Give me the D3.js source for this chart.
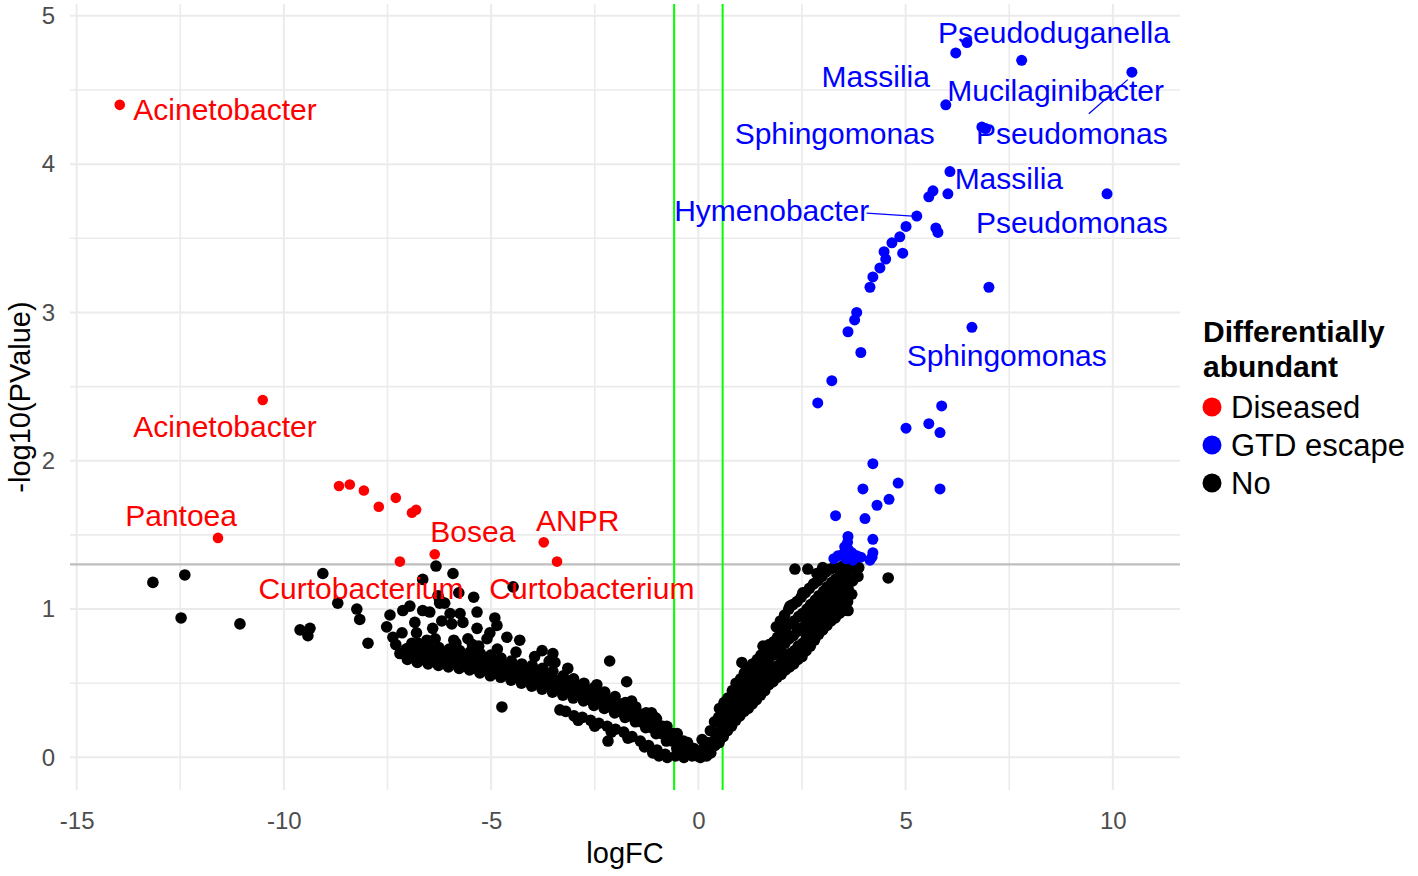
<!DOCTYPE html>
<html>
<head>
<meta charset="utf-8">
<script src="https://cdn.jsdelivr.net/npm/d3@7"></script>
<style>
  body { margin: 0; background: #fff; }
  text { font-family: "Liberation Sans", Arial, sans-serif; }
</style>
</head>
<body>
<div id="plot"></div>
<script>
// logFC, -log10(PValue)
const diseased = [
  [-13.96, 4.40], [-10.51, 2.41], [-11.59, 1.48], [-8.67, 1.83], [-8.41, 1.84],
  [-8.07, 1.80], [-7.71, 1.69], [-7.30, 1.75], [-6.91, 1.65], [-6.81, 1.67],
  [-7.20, 1.32], [-6.36, 1.37], [-3.73, 1.45], [-3.41, 1.32]
];

const gtdEscape = [
  [6.21, 4.75], [6.48, 4.82], [7.80, 4.70], [10.46, 4.62], [5.97, 4.40], [6.84, 4.25],
  [6.93, 4.24], [6.07, 3.95], [5.66, 3.82], [5.56, 3.78], [6.02, 3.80], [9.86, 3.80],
  [5.27, 3.65], [5.01, 3.58], [5.73, 3.57], [5.78, 3.54], [4.86, 3.51], [4.67, 3.47],
  [4.48, 3.41], [4.93, 3.40], [4.52, 3.36], [4.38, 3.30], [4.21, 3.24], [4.14, 3.17],
  [7.01, 3.17], [3.82, 3.00], [3.77, 2.95], [3.61, 2.87], [3.92, 2.73], [6.60, 2.90],
  [3.22, 2.54], [2.88, 2.39], [5.87, 2.37], [5.01, 2.22], [5.56, 2.25], [5.83, 2.19],
  [4.21, 1.98], [4.82, 1.85], [3.97, 1.81], [5.83, 1.81], [4.60, 1.74], [4.31, 1.70],
  [3.31, 1.63], [4.02, 1.61], [3.61, 1.49], [4.21, 1.47], [3.53, 1.42], [3.62, 1.40],
  [3.70, 1.38], [3.37, 1.36], [3.49, 1.37], [3.82, 1.36], [3.92, 1.35], [3.27, 1.34],
  [4.21, 1.38], [4.19, 1.35], [4.14, 1.33], [3.56, 1.34], [3.73, 1.33], [3.60, 1.45]
];

const notDifferential = [
  // sparse left
  [-13.16, 1.18], [-12.39, 1.23], [-12.48, 0.94], [-11.06, 0.90], [-9.06, 1.24], [-8.70, 1.04],
  [-9.61, 0.86], [-9.37, 0.87], [-9.42, 0.82], [-8.24, 1.00], [-8.17, 0.93], [-7.97, 0.77],
  [-6.65, 1.20], [-6.33, 1.29], [-5.92, 1.24], [-5.78, 1.11], [-5.42, 1.08], [-4.47, 1.15],
  [-6.24, 1.04],
  [-7.44, 0.96], [-7.52, 0.88], [-7.37, 0.81], [-7.13, 0.99], [-6.96, 1.02], [-6.84, 0.91],
  [-6.91, 0.77], [-6.65, 0.99], [-6.48, 0.98], [-6.55, 0.79], [-6.41, 0.87], [-6.24, 1.06],
  [-6.28, 1.09], [-6.19, 0.92], [-6.12, 1.04], [-5.99, 0.97], [-5.95, 0.90], [-5.75, 0.97],
  [-5.68, 0.91], [-5.34, 0.98], [-5.34, 0.87], [-4.91, 0.94], [-4.86, 0.89], [-5.03, 0.84],
  [-7.20, 0.70], [-7.05, 0.73], [-6.72, 0.72], [-6.41, 0.70], [-6.07, 0.69], [-5.83, 0.72],
  [-5.56, 0.80], [-5.10, 0.80], [-4.62, 0.81], [-4.31, 0.79], [-3.77, 0.72], [-3.51, 0.70],
  [-3.46, 0.64], [-2.45, 0.49], [-2.14, 0.65], [-1.73, 0.51], [-1.61, 0.38], [-1.13, 0.30],
  [-1.05, 0.27], [-4.74, 0.34], [-3.34, 0.32], [-2.18, 0.11],
  [-7.30, 0.76], [-7.15, 0.84], [-6.80, 0.84], [-6.35, 0.80], [-5.90, 0.79], [-5.45, 0.76],
  [-5.85, 0.77], [-5.30, 0.75], [-4.85, 0.73], [-4.40, 0.71], [-3.95, 0.68], [-3.60, 0.65],
  [-3.15, 0.60],
  // main left band
  [-7.02, 0.66], [-6.98, 0.74],
  [-6.78, 0.64], [-6.73, 0.70], [-6.76, 0.77],
  [-6.52, 0.63], [-6.47, 0.69], [-6.51, 0.76],
  [-6.27, 0.62], [-6.23, 0.68], [-6.26, 0.74],
  [-6.03, 0.61], [-5.98, 0.67], [-6.01, 0.73],
  [-5.77, 0.60], [-5.74, 0.66], [-5.76, 0.72],
  [-5.52, 0.59], [-5.48, 0.65], [-5.51, 0.71],
  [-5.27, 0.57], [-5.23, 0.63], [-5.26, 0.70],
  [-5.02, 0.55], [-4.98, 0.62], [-5.01, 0.69],
  [-4.77, 0.54], [-4.73, 0.60], [-4.76, 0.67],
  [-4.52, 0.52], [-4.48, 0.58], [-4.51, 0.65],
  [-4.27, 0.50], [-4.23, 0.56], [-4.26, 0.63],
  [-4.02, 0.48], [-3.98, 0.55], [-4.01, 0.62],
  [-3.77, 0.46], [-3.73, 0.53], [-3.76, 0.60],
  [-3.52, 0.44], [-3.48, 0.51], [-3.51, 0.58],
  [-3.27, 0.42], [-3.23, 0.48], [-3.26, 0.55],
  [-3.02, 0.40], [-2.98, 0.46], [-3.01, 0.53],
  [-2.77, 0.38], [-2.73, 0.44], [-2.76, 0.50],
  [-2.52, 0.35], [-2.48, 0.41], [-2.51, 0.47],
  [-2.27, 0.33], [-2.23, 0.38], [-2.26, 0.44],
  [-2.02, 0.30], [-1.98, 0.35], [-2.01, 0.41],
  [-1.77, 0.27], [-1.73, 0.32], [-1.76, 0.37],
  [-1.52, 0.24], [-1.48, 0.29], [-1.51, 0.34],
  [-1.27, 0.20], [-1.23, 0.25], [-1.26, 0.30],
  [-1.02, 0.16], [-0.98, 0.21], [-1.01, 0.26],
  [-0.77, 0.11], [-0.73, 0.16], [-0.76, 0.21],
  [-0.52, 0.06], [-0.48, 0.11], [-0.51, 0.16],
  [-0.27, 0.02], [-0.23, 0.06], [-0.26, 0.10],
  [-0.02, 0.01], [0.02, 0.04],
  [-6.88, 0.67], [-6.86, 0.73], [-6.63, 0.66], [-6.61, 0.72], [-6.38, 0.65], [-6.36, 0.71],
  [-6.13, 0.64], [-6.11, 0.70], [-5.88, 0.63], [-5.86, 0.69], [-5.63, 0.62], [-5.61, 0.68],
  [-5.38, 0.60], [-5.36, 0.67], [-5.13, 0.59], [-5.11, 0.65], [-4.88, 0.57], [-4.86, 0.64],
  [-4.63, 0.56], [-4.61, 0.62], [-4.38, 0.54], [-4.36, 0.60], [-4.13, 0.52], [-4.11, 0.59],
  [-3.88, 0.50], [-3.86, 0.57], [-3.63, 0.48], [-3.61, 0.55], [-3.38, 0.46], [-3.36, 0.52],
  [-3.13, 0.44], [-3.11, 0.50], [-2.88, 0.42], [-2.86, 0.48], [-2.63, 0.39], [-2.61, 0.45],
  [-2.38, 0.37], [-2.36, 0.42], [-2.13, 0.34], [-2.11, 0.39], [-1.88, 0.31], [-1.86, 0.36],
  [-1.63, 0.28], [-1.61, 0.33], [-1.38, 0.24], [-1.36, 0.29], [-1.13, 0.20], [-1.11, 0.25],
  [-0.88, 0.16], [-0.86, 0.21], [-0.63, 0.11], [-0.61, 0.16], [-0.38, 0.06], [-0.36, 0.11],
  [-0.13, 0.02], [-0.11, 0.06],
  // lower streak
  [-3.20, 0.31], [-3.00, 0.28], [-2.80, 0.27], [-2.60, 0.25], [-2.40, 0.23], [-2.20, 0.21],
  [-2.00, 0.19], [-1.80, 0.17], [-1.60, 0.14], [-1.40, 0.11], [-1.20, 0.08], [-1.00, 0.05],
  [-0.80, 0.02], [-0.95, 0.01], [-0.75, 0.00], [-0.55, 0.01], [-0.35, 0.00], [-0.15, 0.01],
  [0.05, 0.00], [0.20, 0.01], [-2.90, 0.25], [-2.50, 0.21], [-2.10, 0.17], [-1.70, 0.13],
  [-1.30, 0.07], [-1.10, 0.03],
  // right band
  [0.10, 0.01], [0.12, 0.06], [0.09, 0.12],
  [0.30, 0.03], [0.32, 0.10], [0.29, 0.18],
  [0.50, 0.10], [0.52, 0.18], [0.49, 0.27], [0.51, 0.33],
  [0.70, 0.18], [0.72, 0.26], [0.69, 0.34], [0.71, 0.40],
  [0.90, 0.25], [0.92, 0.33], [0.89, 0.42], [0.91, 0.50],
  [1.10, 0.31], [1.12, 0.39], [1.09, 0.48], [1.11, 0.57],
  [1.30, 0.36], [1.32, 0.45], [1.29, 0.54], [1.31, 0.63],
  [1.50, 0.42], [1.52, 0.51], [1.49, 0.60], [1.51, 0.69],
  [1.70, 0.49], [1.72, 0.57], [1.69, 0.66], [1.71, 0.76],
  [1.90, 0.54], [1.92, 0.62], [1.89, 0.71], [1.91, 0.81], [1.88, 0.88],
  [2.10, 0.59], [2.12, 0.68], [2.09, 0.77], [2.11, 0.87], [2.08, 0.96],
  [2.30, 0.63], [2.32, 0.72], [2.29, 0.82], [2.31, 0.92], [2.28, 1.03],
  [2.50, 0.68], [2.52, 0.77], [2.49, 0.87], [2.51, 0.97], [2.48, 1.08],
  [2.70, 0.75], [2.72, 0.84], [2.69, 0.93], [2.71, 1.03], [2.68, 1.14],
  [2.90, 0.83], [2.92, 0.91], [2.89, 1.00], [2.91, 1.09], [2.88, 1.19],
  [3.10, 0.89], [3.12, 0.98], [3.09, 1.06], [3.11, 1.15], [3.08, 1.25],
  [3.30, 0.94], [3.32, 1.03], [3.29, 1.12], [3.31, 1.20], [3.28, 1.28],
  [3.50, 0.99], [3.52, 1.08], [3.49, 1.17], [3.51, 1.24], [3.48, 1.29],
  [3.70, 1.10], [3.72, 1.19], [3.69, 1.27],
  [3.85, 1.22], [3.87, 1.28],
  [0.20, 0.04], [0.21, 0.10],
  [0.40, 0.08], [0.41, 0.16], [0.39, 0.24],
  [0.60, 0.14], [0.61, 0.22], [0.59, 0.30], [0.62, 0.37],
  [0.80, 0.21], [0.81, 0.29], [0.79, 0.38], [0.82, 0.45],
  [1.00, 0.28], [1.01, 0.36], [0.99, 0.45], [1.02, 0.53],
  [1.20, 0.33], [1.21, 0.42], [1.19, 0.51], [1.22, 0.60],
  [1.40, 0.39], [1.41, 0.48], [1.39, 0.57], [1.42, 0.66],
  [1.60, 0.45], [1.61, 0.54], [1.59, 0.63], [1.62, 0.72],
  [1.80, 0.51], [1.81, 0.60], [1.79, 0.69], [1.82, 0.78],
  [2.00, 0.56], [2.01, 0.65], [1.99, 0.74], [2.02, 0.84], [1.98, 0.92],
  [2.20, 0.61], [2.21, 0.70], [2.19, 0.80], [2.22, 0.90], [2.18, 1.00],
  [2.40, 0.66], [2.41, 0.75], [2.39, 0.85], [2.42, 0.95], [2.38, 1.05],
  [2.60, 0.72], [2.61, 0.81], [2.59, 0.90], [2.62, 1.00], [2.58, 1.11],
  [2.80, 0.79], [2.81, 0.88], [2.79, 0.97], [2.82, 1.06], [2.78, 1.17],
  [3.00, 0.86], [3.01, 0.95], [2.99, 1.03], [3.02, 1.12], [2.98, 1.22],
  [3.20, 0.92], [3.21, 1.01], [3.19, 1.09], [3.22, 1.18], [3.18, 1.27],
  [3.40, 0.97], [3.41, 1.06], [3.39, 1.15], [3.42, 1.23],
  [3.60, 1.05], [3.61, 1.14], [3.59, 1.22], [3.62, 1.28],
  [2.33, 1.27], [2.64, 1.27], [2.86, 1.24], [3.00, 1.28], [3.46, 1.13], [3.61, 0.99],
  [1.05, 0.64], [1.56, 0.75], [4.58, 1.21], [2.21, 1.02], [2.52, 1.11], [0.58, 0.30]
];

const labelText = [
  "Acinetobacter", "Acinetobacter", "Pantoea", "Bosea", "ANPR", "Curtobacterium", "Curtobacterium",
  "Pseudoduganella", "Massilia", "Mucilaginibacter", "Sphingomonas", "Pseudomonas",
  "Massilia", "Hymenobacter", "Pseudomonas", "Sphingomonas"
];
const labelGroup = [
  "Diseased", "Diseased", "Diseased", "Diseased", "Diseased", "Diseased", "Diseased",
  "GTD escape", "GTD escape", "GTD escape", "GTD escape", "GTD escape",
  "GTD escape", "GTD escape", "GTD escape", "GTD escape"
];
// label centre in data units
const labelX = [-11.42, -11.42, -12.48, -5.44, -2.91, -8.14, -2.57, 8.58, 4.28, 8.62, 3.29, 9.01, 7.49, 1.77, 9.01, 7.44];
const labelY = [4.37, 2.23, 1.63, 1.52, 1.60, 1.14, 1.14, 4.89, 4.59, 4.50, 4.21, 4.21, 3.90, 3.69, 3.61, 2.71];

// repel segments [from, to] in data units
const segments = [
  [[9.42, 4.34], [10.36, 4.57]],
  [[4.06, 3.67], [5.17, 3.65]]
];

const xTicks = [-15, -10, -5, 0, 5, 10];
const yTicks = [0, 1, 2, 3, 4, 5];
const fcCut = 0.585;
const pCut = 1.301;

const groups = ["Diseased", "GTD escape", "No"];
const groupColor = { "Diseased": "#ff0000", "GTD escape": "#0000ff", "No": "#000000" };

const width = 1418, height = 876;
const panel = { left: 70, right: 1180, top: 4, bottom: 790 };

const x = d3.scaleLinear().domain([-15.16, 11.62]).range([panel.left, panel.right]);
const y = d3.scaleLinear().domain([-0.22, 5.08]).range([panel.bottom, panel.top]);

const svg = d3.select("#plot").append("svg")
  .attr("width", width)
  .attr("height", height)
  .attr("viewBox", [0, 0, width, height]);

// grid (minor then major)
const xMinor = d3.range(-15, 11.6, 2.5).filter(v => v % 5 !== 0);
const yMinor = d3.range(0.5, 5, 1);
const grid = svg.append("g").attr("stroke", "#ebebeb");
grid.selectAll(".xminor").data(xMinor).join("line")
  .attr("x1", d => x(d)).attr("x2", d => x(d))
  .attr("y1", panel.top).attr("y2", panel.bottom).attr("stroke-width", 1.6);
grid.selectAll(".yminor").data(yMinor).join("line")
  .attr("y1", d => y(d)).attr("y2", d => y(d))
  .attr("x1", panel.left).attr("x2", panel.right).attr("stroke-width", 1.6);
grid.selectAll(".xmajor").data(xTicks).join("line")
  .attr("x1", d => x(d)).attr("x2", d => x(d))
  .attr("y1", panel.top).attr("y2", panel.bottom).attr("stroke-width", 2);
grid.selectAll(".ymajor").data(yTicks).join("line")
  .attr("y1", d => y(d)).attr("y2", d => y(d))
  .attr("x1", panel.left).attr("x2", panel.right).attr("stroke-width", 2);

// axes text
const xAxis = d3.axisBottom(x).tickValues(xTicks).tickFormat(d => String(d)).tickSize(0);
const yAxis = d3.axisLeft(y).tickValues(yTicks).tickFormat(d => String(d)).tickSize(0).tickPadding(15);

svg.append("g")
  .attr("transform", `translate(0,${panel.bottom})`)
  .call(xAxis)
  .call(g => g.select(".domain").remove())
  .call(g => g.selectAll("text")
    .attr("font-size", 24).attr("fill", "#4d4d4d")
    .attr("font-family", "Liberation Sans, Arial, sans-serif")
    .attr("dy", null).attr("dominant-baseline", "central").attr("y", 30));

svg.append("g")
  .attr("transform", `translate(${panel.left},0)`)
  .call(yAxis)
  .call(g => g.select(".domain").remove())
  .call(g => g.selectAll("text")
    .attr("font-size", 24).attr("fill", "#4d4d4d")
    .attr("font-family", "Liberation Sans, Arial, sans-serif"));

svg.append("text")
  .attr("x", (panel.left + panel.right) / 2)
  .attr("y", 853)
  .attr("text-anchor", "middle")
  .attr("dominant-baseline", "central")
  .attr("font-size", 29)
  .text("logFC");

svg.append("text")
  .attr("transform", `translate(20,${(panel.top + panel.bottom) / 2}) rotate(-90)`)
  .attr("text-anchor", "middle")
  .attr("dominant-baseline", "central")
  .attr("font-size", 29)
  .text("-log10(PValue)");

// threshold lines
svg.append("line")
  .attr("x1", panel.left).attr("x2", panel.right)
  .attr("y1", y(pCut)).attr("y2", y(pCut))
  .attr("stroke", "#bebebe").attr("stroke-width", 2.2);

svg.selectAll(".fc").data([-fcCut, fcCut]).join("line")
  .attr("x1", d => x(d)).attr("x2", d => x(d))
  .attr("y1", panel.top).attr("y2", panel.bottom)
  .attr("stroke", "#00ff00").attr("stroke-width", 2);

// points
const points = svg.append("g");
points.selectAll(".no").data(notDifferential).join("circle")
  .attr("cx", d => x(d[0])).attr("cy", d => y(d[1])).attr("r", 5.8)
  .attr("fill", groupColor["No"]);
points.selectAll(".dis").data(diseased).join("circle")
  .attr("cx", d => x(d[0])).attr("cy", d => y(d[1])).attr("r", 5.3)
  .attr("fill", groupColor["Diseased"]);
points.selectAll(".gtd").data(gtdEscape).join("circle")
  .attr("cx", d => x(d[0])).attr("cy", d => y(d[1])).attr("r", 5.5)
  .attr("fill", groupColor["GTD escape"]);

// labels
const labels = labelText.map((t, i) => ({ text: t, group: labelGroup[i], x: labelX[i], y: labelY[i] }));

svg.append("g").selectAll("line").data(segments).join("line")
  .attr("x1", d => x(d[0][0])).attr("y1", d => y(d[0][1]))
  .attr("x2", d => x(d[1][0])).attr("y2", d => y(d[1][1]))
  .attr("stroke", "#0000ff").attr("stroke-width", 1.3);

svg.append("g").selectAll("text").data(labels).join("text")
  .attr("x", d => x(d.x)).attr("y", d => y(d.y))
  .attr("text-anchor", "middle")
  .attr("dominant-baseline", "central")
  .attr("font-size", 30)
  .attr("fill", d => groupColor[d.group])
  .text(d => d.text);

// legend
const legend = svg.append("g").attr("transform", "translate(1203,0)");
legend.selectAll(".title").data(["Differentially", "abundant"]).join("text")
  .attr("x", 0).attr("y", (d, i) => 331 + i * 35)
  .attr("dominant-baseline", "central")
  .attr("font-size", 30).attr("font-weight", "bold")
  .text(d => d);
const item = legend.selectAll(".item").data(groups).join("g")
  .attr("transform", (d, i) => `translate(0,${407 + i * 38})`);
item.append("circle").attr("cx", 9).attr("cy", 0).attr("r", 9.5)
  .attr("fill", d => groupColor[d]);
item.append("text").attr("x", 28).attr("y", 0)
  .attr("dominant-baseline", "central")
  .attr("font-size", 31)
  .text(d => d);
</script>
</body>
</html>
